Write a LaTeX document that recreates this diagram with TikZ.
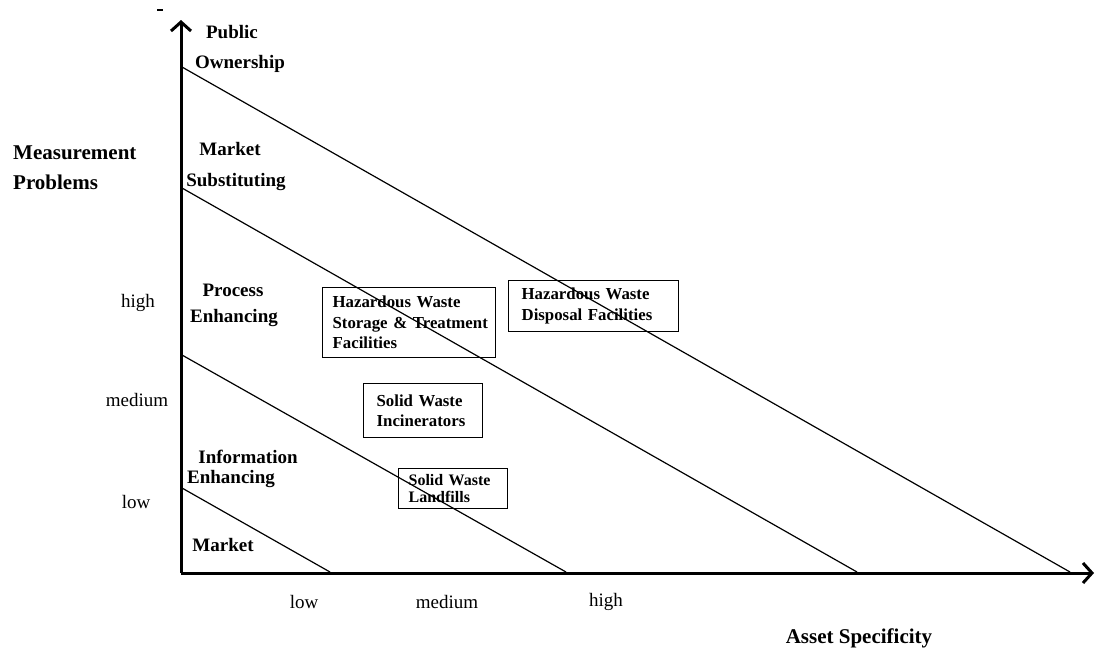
\documentclass[tikz,border=0pt]{standalone}
\usepackage{fontspec}
\setmainfont{Liberation Serif}
\usetikzlibrary{arrows.meta}
\hyphenpenalty=10000\relax
\exhyphenpenalty=10000\relax
\tikzset{
  lbl/.style={font=\fontsize{19}{22}\selectfont\bfseries, inner sep=0pt},
  ttl/.style={font=\fontsize{21}{24}\selectfont\bfseries, inner sep=0pt, anchor=west},
  tick/.style={font=\fontsize{19}{22}\selectfont, inner sep=0pt},
  box/.style={draw, line width=1.3pt, align=left, anchor=north west, inner xsep=10pt,
    font=\fontsize{16.8}{20.5}\selectfont\bfseries},
  axis/.style={line width=3pt, -{Straight Barb[length=9pt,width=20pt,line width=3pt]}},
  diag/.style={line width=1.2pt}
}
\begin{document}
\begin{tikzpicture}[x=1pt,y=-1pt]
\useasboundingbox (0,0) rectangle (1095,649);
% axes
\coordinate (O) at (181,573);
\coordinate (ytop) at (181,20);
\coordinate (xend) at (1094,573);
\draw[axis] (O) -- (ytop);
\draw[axis] (O) -- (xend);
% diagonal boundaries
\coordinate (l1s) at (182,67);  \coordinate (l1e) at (1070,572);
\coordinate (l2s) at (182,188); \coordinate (l2e) at (857,572);
\coordinate (l3s) at (182,355); \coordinate (l3e) at (566,572);
\coordinate (l4s) at (182,488); \coordinate (l4e) at (330,572);
\draw[diag] (l1s) -- (l1e);
\draw[diag] (l2s) -- (l2e);
\draw[diag] (l3s) -- (l3e);
\draw[diag] (l4s) -- (l4e);
% stray dash mark
\coordinate (dashA) at (157,10); \coordinate (dashB) at (163,10);
\draw[line width=2.5pt] (dashA) -- (dashB);
% region labels
\node[lbl] (public) at (232,32) {Public};
\node[lbl] (owner) at (240,64) {Ownership};
\node[lbl] (market1) at (230,149) {Market};
\node[lbl] (subst) at (236,182) {Substituting};
\node[lbl] (process) at (233,290) {Process};
\node[lbl] (enh1) at (234,318) {Enhancing};
\node[lbl] (info) at (248,457) {Information};
\node[lbl] (enh2) at (231,479) {Enhancing};
\node[lbl] (market2) at (223,545) {Market};
% axis titles
\node[ttl] (meas) at (13,153) {Measurement};
\node[ttl] (prob) at (13,182) {Problems};
\node[ttl, anchor=center] (asset) at (859,638) {Asset Specificity};
% ticks
\node[tick] (yhigh) at (138,303) {high};
\node[tick] (ymed) at (137,400) {medium};
\node[tick] (ylow) at (136,502) {low};
\node[tick] (xlow) at (304,602) {low};
\node[tick] (xmed) at (447,602) {medium};
\node[tick] (xhigh) at (606,602) {high};
% boxes
\node[box, text width=153pt, minimum height=70pt] (hwst) at (322,287)
  {Hazardous~Waste\\Storage~\&~Treatment\\Facilities};
\node[box, text width=144pt, minimum height=51pt, inner xsep=13pt] (hwdf) at (508,280)
  {Hazardous~Waste\\Disposal~Facilities};
\node[box, text width=93pt, minimum height=54pt, inner xsep=13pt] (swi) at (363,383)
  {Solid~Waste\\Incinerators};
\node[box, text width=89pt, minimum height=40pt, inner xsep=10pt,
  font=\fontsize{16}{17}\selectfont\bfseries] (swl) at (398,468)
  {Solid~Waste\\Landfills};
\end{tikzpicture}
\end{document}
